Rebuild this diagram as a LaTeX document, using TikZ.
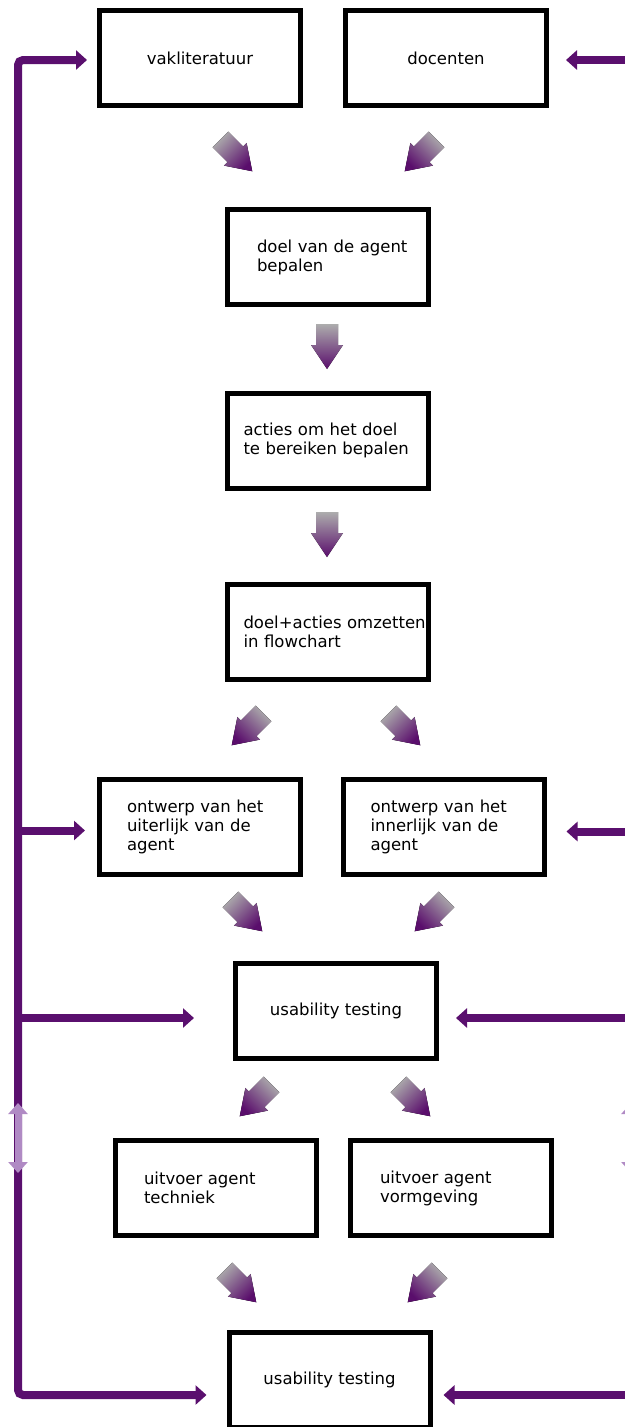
\documentclass[tikz,border=0pt]{standalone}
\usepackage{fontspec}
\setmainfont{DejaVu Sans}
\usetikzlibrary{arrows.meta}

\definecolor{feedpurple}{HTML}{5A0F6E}
\definecolor{lavender}{HTML}{B08AC4}
\definecolor{shadegray}{HTML}{ADADAD}
\definecolor{shadepurple}{HTML}{5A0E6C}

\tikzset{
  box/.style={draw, line width=5pt, minimum width=201pt, minimum height=95pt,
    font=\fontsize{16.5}{19}\selectfont},
  leftbox/.style={box, align=left, inner xsep=#1, text width=201pt-2*#1},
  feed/.style={draw=feedpurple, line width=8pt, -{Triangle[length=11pt,width=19pt]}},
  twoway/.style={draw=lavender, line width=7pt,
    {Triangle[length=11pt,width=19pt]}-{Triangle[length=11pt,width=19pt]}},
  fatarrow/.pic={
    \fill[top color=shadegray, bottom color=shadepurple, shading angle=#1]
      (-22,-11) -- (-1,-11) -- (-1,-16) -- (23,0) -- (-1,16) -- (-1,11) -- (-22,11) -- cycle;
  }
}

\begin{document}
\begin{tikzpicture}[x=1pt,y=-1pt]
\useasboundingbox (0,0) rectangle (624,1427);

% boxes
\node[box] (vak) at (200,58) {vakliteratuur};
\node[box] (doc) at (446,58) {docenten};
\node[leftbox=30pt] (doel) at (327.5,257) {\mbox{doel van de agent}\\bepalen};
\node[leftbox=16.5pt] (acties) at (327.5,440.5) {\mbox{acties om het doel}\\\mbox{te bereiken bepalen}};
\node[leftbox=16.5pt] (flow) at (327.5,632) {\mbox{doel+acties omzetten}\\in flowchart};
\node[leftbox=27.5pt] (uiter) at (200,826.5) {ontwerp van het\\uiterlijk van de\\agent};
\node[leftbox=27.5pt] (inner) at (443.5,826.5) {ontwerp van het\\innerlijk van de\\agent};
\node[box] (test1) at (336,1011) {usability testing};
\node[leftbox=28.5pt] (techniek) at (216,1188) {uitvoer agent\\techniek};
\node[leftbox=29.5pt] (vorm) at (451,1188) {uitvoer agent\\vormgeving};
\node[box] (test2) at (329.5,1380) {usability testing};

% shaded arrows between the steps
\pic (s1) [rotate=-45] at (236,155) {fatarrow=45};
\pic (s2) [rotate=-135] at (421,155) {fatarrow=-45};
\pic (s3) [rotate=-90] at (327,346) {fatarrow=0};
\pic (s4) [rotate=-90] at (327,534) {fatarrow=0};
\pic (s5) [rotate=-135] at (248,729) {fatarrow=-45};
\pic (s6) [rotate=-45] at (404,729) {fatarrow=45};
\pic (s7) [rotate=-45] at (246,915) {fatarrow=45};
\pic (s8) [rotate=-135] at (431,915) {fatarrow=-45};
\pic (s9) [rotate=-135] at (256,1100) {fatarrow=-45};
\pic (s10) [rotate=-45] at (414,1100) {fatarrow=45};
\pic (s11) [rotate=-45] at (240,1286) {fatarrow=45};
\pic (s12) [rotate=-135] at (424,1286) {fatarrow=-45};

% feedback lines
\coordinate (lx) at (18,700);
\coordinate (rx) at (631,700);
\coordinate (vakin) at ([yshift=-2pt]vak.west);
\coordinate (docin) at ([yshift=-2pt]doc.east);
\coordinate (uiterin) at ([yshift=-4pt]uiter.west);
\coordinate (test1l) at ([yshift=-7pt]test1.west);
\coordinate (test2l) at ([yshift=-15pt]test2.west);
\coordinate (innerin) at ([yshift=-5pt]inner.east);
\coordinate (test1r) at ([yshift=-7pt]test1.east);
\coordinate (test2r) at ([yshift=-15pt]test2.east);
\draw[feed, {Triangle[length=11pt,width=19pt]}-{Triangle[length=11pt,width=19pt]},
  rounded corners=5pt, shorten <=10pt, shorten >=20pt]
  (vakin) -| (lx) |- (test2l);
\draw[feed, shorten >=12pt] (lx |- uiterin) -- (uiterin);
\draw[feed, shorten >=39pt] (lx |- test1l) -- (test1l);
\draw[feed, shorten >=17pt] (rx |- docin) -- (docin);
\draw[feed, shorten >=20pt] (rx |- innerin) -- (innerin);
\draw[feed, shorten >=17pt] (rx |- test1r) -- (test1r);
\draw[feed, shorten >=11pt] (rx |- test2r) -- (test2r);

% two-way arrows
\coordinate (la) at (18,1103);
\coordinate (lb) at (18,1173);
\coordinate (ra) at (631,1103);
\coordinate (rb) at (631,1173);
\draw[twoway] (la) -- (lb);
\draw[twoway] (ra) -- (rb);
\end{tikzpicture}
\end{document}
